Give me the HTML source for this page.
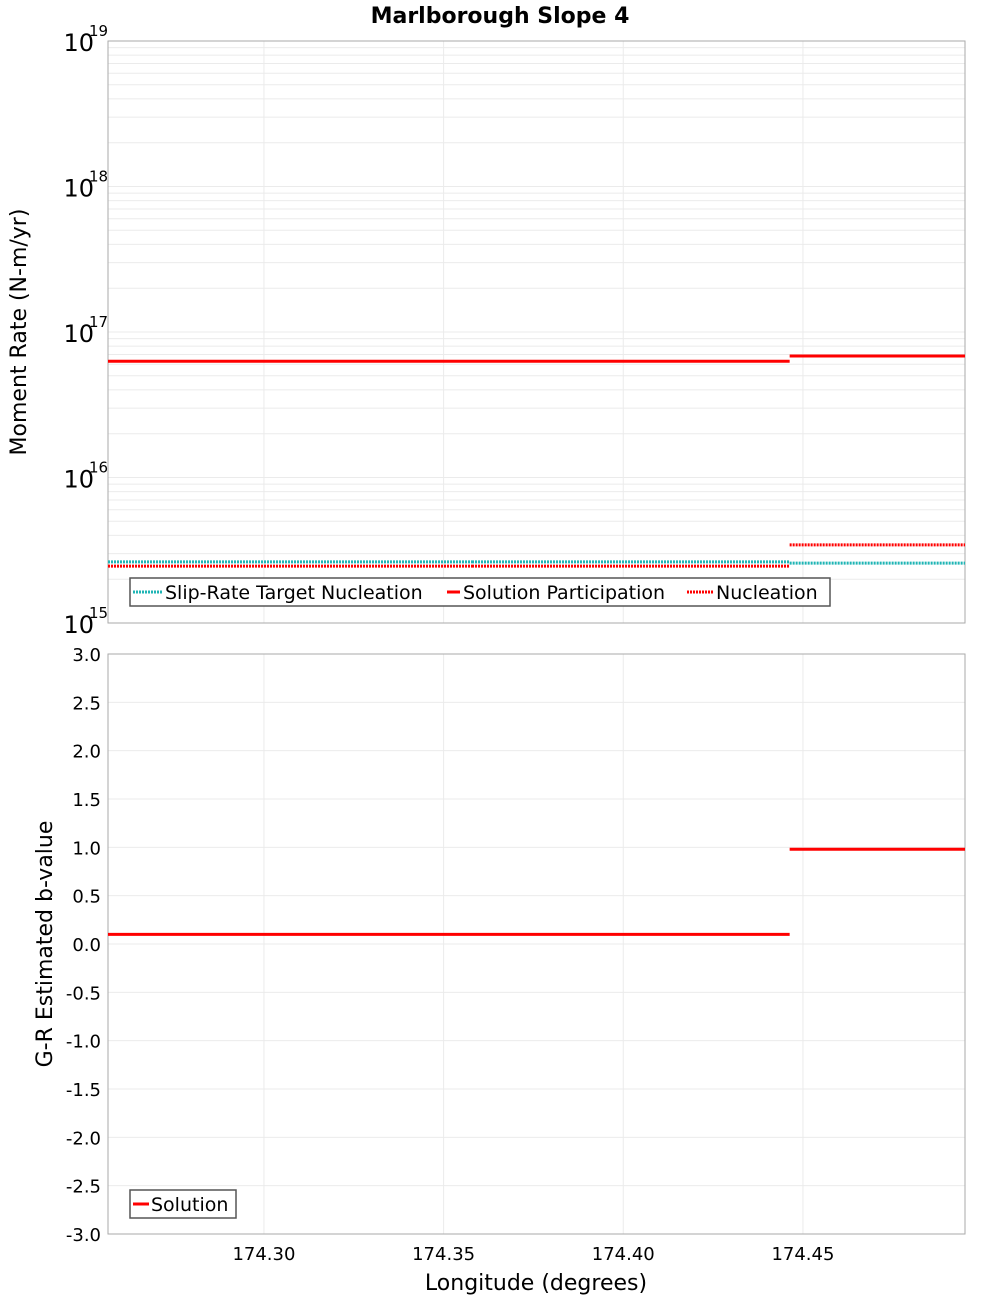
<!DOCTYPE html>
<html><head><meta charset="utf-8"><style>
body{margin:0;background:#fff;width:1000px;height:1300px;overflow:hidden}
svg{display:block;font-family:"DejaVu Sans","Liberation Sans",sans-serif}
</style></head><body>
<svg id="chart" width="1000" height="1300" xmlns="http://www.w3.org/2000/svg"></svg>
<script>
const segEdges=[174.2566,174.3579,174.4463,174.4951];
const targetNucl=[2.63e15,2.63e15,2.58e15];
const solPart=[6.3e16,6.3e16,6.84e16];
const nucleation=[2.46e15,2.46e15,3.44e15];
const bValue=[0.1,0.1,0.98];
const xTicks=[174.30,174.35,174.40,174.45];
const xTickLabels=["174.30","174.35","174.40","174.45"];
const logDecades=[15,16,17,18,19];
const bTicks=[3.0,2.5,2.0,1.5,1.0,0.5,0.0,-0.5,-1.0,-1.5,-2.0,-2.5,-3.0];

const svg=document.getElementById('chart');
const NS='http://www.w3.org/2000/svg';
function mk(tag,attrs,parent){const e=document.createElementNS(NS,tag);for(const k in attrs)e.setAttribute(k,attrs[k]);(parent||svg).appendChild(e);return e;}
const L=108,R=965,T1=41,B1=623,T2=654,B2=1234;
const xS=v=>L+(v-segEdges[0])/(segEdges[3]-segEdges[0])*(R-L);
const yLog=v=>B1-(Math.log10(v)-15)/4*(B1-T1);
const yB=v=>B2-(v+3)/6*(B2-T2);

const title=mk('text',{x:500,y:23,'text-anchor':'middle','font-size':22,'font-weight':'bold'});
title.textContent='Marlborough Slope 4';



// top panel grid
const g1=mk('g',{});


for(let d=15;d<19;d++)for(let m=1;m<10;m++){const y=yLog(m*Math.pow(10,d));mk('line',{x1:L,x2:R,y1:y,y2:y,stroke:'#ebebeb','stroke-width':1},g1);}
xTicks.forEach(t=>{mk('line',{x1:xS(t),x2:xS(t),y1:T1,y2:B1,stroke:'#ebebeb'},g1);mk('line',{x1:xS(t),x2:xS(t),y1:T2,y2:B2,stroke:'#ebebeb'},g1);});
bTicks.forEach(t=>mk('line',{x1:L,x2:R,y1:yB(t),y2:yB(t),stroke:'#ebebeb'},g1));

// frames
const f1=mk('rect',{x:L,y:T1,width:R-L,height:B1-T1,fill:'none',stroke:'#aaa'});


const f2=mk('rect',{x:L,y:T2,width:R-L,height:B2-T2,fill:'none',stroke:'#aaa'});



// log tick labels
logDecades.forEach(d=>{const y=yLog(Math.pow(10,d));
 const t=mk('text',{x:94,y:y+10,'text-anchor':'end','font-size':24});t.textContent='10';
 
 
 const s=mk('text',{x:89,y:y-5,'font-size':15});s.textContent=String(d);
 
 });
bTicks.forEach(v=>{const t=mk('text',{x:101,y:yB(v)+7,'text-anchor':'end','font-size':18});t.textContent=v.toFixed(1);
 
 });
xTicks.forEach((v,i)=>{const t=mk('text',{x:xS(v),y:1260,'text-anchor':'middle','font-size':18});t.textContent=xTickLabels[i];
 
 });

const yt1=mk('text',{x:0,y:0,'text-anchor':'middle','font-size':22,transform:'translate(26,332) rotate(-90)'});yt1.textContent='Moment Rate (N-m/yr)';


const yt2=mk('text',{x:0,y:0,'text-anchor':'middle','font-size':22,transform:'translate(52,944) rotate(-90)'});yt2.textContent='G-R Estimated b-value';


const xt=mk('text',{x:536,y:1290,'text-anchor':'middle','font-size':22});xt.textContent='Longitude (degrees)';



function series(vals,yf,color,dash,name){const g=mk('g',{});
 
 
 vals.forEach((v,i)=>{const a={x1:xS(segEdges[i]),x2:xS(segEdges[i+1]),y1:yf(v),y2:yf(v),stroke:color,'stroke-width':3};if(dash)a['stroke-dasharray']=dash;mk('line',a,g);});}
series(targetNucl,yLog,'#1fb5b5','2,1','slip-rate-target-series');
series(solPart,yLog,'#ff0000',null,'solution-participation-series');
series(nucleation,yLog,'#ff0000','2,1','nucleation-series');
series(bValue,yB,'#ff0000',null,'b-value-series');

// legends
const lg=mk('g',{});


mk('rect',{x:130,y:578,width:700,height:28,fill:'#fff',stroke:'#555','stroke-width':1.5},lg);
[[133,165,'#1fb5b5','2,1','Slip-Rate Target Nucleation'],[447,463,'#ff0000',null,'Solution Participation'],[687,716,'#ff0000','2,1','Nucleation']].forEach(e=>{
 const a={x1:e[0],x2:e[1]-3,y1:592,y2:592,stroke:e[2],'stroke-width':3};if(e[3])a['stroke-dasharray']=e[3];mk('line',a,lg);
 const t=mk('text',{x:e[1],y:599,'font-size':19},lg);t.textContent=e[4];
 
 });
const lg2=mk('g',{});


mk('rect',{x:130,y:1190,width:106,height:28,fill:'#fff',stroke:'#555','stroke-width':1.5},lg2);
mk('line',{x1:133,x2:149,y1:1204,y2:1204,stroke:'#ff0000','stroke-width':3},lg2);
const lt=mk('text',{x:151,y:1211,'font-size':19},lg2);lt.textContent='Solution';


</script>
</body></html>
